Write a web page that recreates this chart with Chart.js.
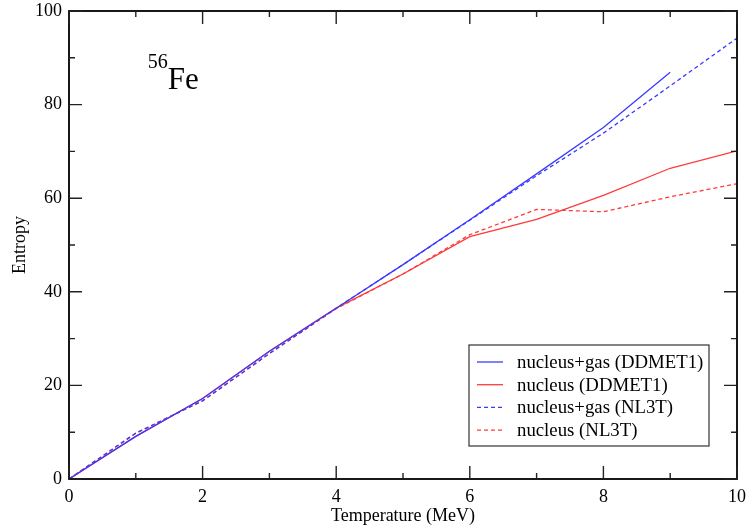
<!DOCTYPE html>
<html>
<head>
<meta charset="utf-8">
<script src="https://cdn.jsdelivr.net/npm/chart.js@4.4.1/dist/chart.umd.min.js"></script>
<style>
  html, body { margin: 0; padding: 0; background: #fff; }
  #wrap { width: 748px; height: 529px; position: relative; }
</style>
</head>
<body>
<div id="wrap"><canvas id="entropia"></canvas></div>
<script>
// temperatura (MeV) y entropía para cada cálculo
const temperaturas = [0, 1, 2, 3, 4, 5, 6, 7, 8, 9, 10];
const ddmetGas  = [0, 9.1, 17.2, 27.3, 36.5, 45.8, 55.4, 65.2, 75.1, 86.9];
const ddmetNuc  = [0, 9.1, 17.2, 27.3, 36.5, 43.8, 51.8, 55.5, 60.6, 66.4, 70.1];
const nl3tGas   = [0, 9.8, 16.7, 26.8, 36.5, 45.8, 55.3, 64.8, 73.9, 84.0, 94.2];
const nl3tNuc   = [0, 9.8, 16.7, 26.8, 36.4, 43.8, 52.2, 57.6, 57.1, 60.3, 63.1];

const nombres = ['nucleus+gas (DDMET1)', 'nucleus (DDMET1)', 'nucleus+gas (NL3T)', 'nucleus (NL3T)'];
const xTicks = [0, 2, 4, 6, 8, 10];
const yTicks = [0, 20, 40, 60, 80, 100];

const AZUL = '#3a3aff';
const ROJO = '#ff3a3a';
const FUENTE = '"Liberation Serif", "DejaVu Serif", serif';

function puntos(vals){
  return vals.map((v, i) => ({x: temperaturas[i], y: v}));
}

function serie(label, vals, color, guiones){
  return {
    label: label,
    data: puntos(vals),
    borderColor: color,
    backgroundColor: color,
    borderWidth: 1.3,
    borderDash: guiones,
    pointRadius: 0,
    tension: 0,
    fill: false
  };
}

const datos = {
  datasets: [
    serie(nombres[0], ddmetGas, AZUL, []),
    serie(nombres[1], ddmetNuc, ROJO, []),
    serie(nombres[2], nl3tGas, AZUL, [4, 3]),
    serie(nombres[3], nl3tNuc, ROJO, [4, 3])
  ]
};

// marco, marcas hacia dentro, leyenda y etiqueta del núcleo
const marco = {
  id: 'marco',
  afterDraw(chart){
    const ctx = chart.ctx;
    const a = chart.chartArea;
    const sx = chart.scales.x, sy = chart.scales.y;
    ctx.save();
    ctx.strokeStyle = '#000';
    ctx.lineWidth = 1.8;
    ctx.strokeRect(a.left, a.top, a.right - a.left, a.bottom - a.top);

    ctx.lineWidth = 1.4;
    ctx.strokeStyle = '#222';
    for (let t = 0; t <= 10; t++) {
      const px = sx.getPixelForValue(t);
      const largo = (t % 2 === 0) ? 13 : 6;
      ctx.beginPath();
      ctx.moveTo(px, a.bottom); ctx.lineTo(px, a.bottom - largo);
      ctx.moveTo(px, a.top); ctx.lineTo(px, a.top + largo);
      ctx.stroke();
    }
    for (let s = 0; s <= 100; s += 10) {
      const py = sy.getPixelForValue(s);
      const largo = (s % 20 === 0) ? 13 : 6;
      ctx.beginPath();
      ctx.moveTo(a.left, py); ctx.lineTo(a.left + largo, py);
      ctx.moveTo(a.right, py); ctx.lineTo(a.right - largo, py);
      ctx.stroke();
    }

    // leyenda
    const lx = 469, ly = 345, lw = 240, lh = 101;
    ctx.fillStyle = '#fff';
    ctx.fillRect(lx, ly, lw, lh);
    ctx.strokeStyle = '#333';
    ctx.lineWidth = 1.2;
    ctx.strokeRect(lx, ly, lw, lh);
    ctx.font = '18.8px ' + FUENTE;
    ctx.textBaseline = 'middle';
    chart.data.datasets.forEach((ds, i) => {
      const yy = ly + 17 + i * 22.7;
      ctx.strokeStyle = ds.borderColor;
      ctx.lineWidth = 1.3;
      ctx.setLineDash(ds.borderDash);
      ctx.beginPath();
      ctx.moveTo(lx + 8, yy); ctx.lineTo(lx + 34, yy);
      ctx.stroke();
      ctx.setLineDash([]);
      ctx.fillStyle = '#000';
      ctx.fillText(ds.label, lx + 48, yy + 1);
    });

    // 56Fe
    const fx = sx.getPixelForValue(1.48), fy = sy.getPixelForValue(83.4);
    ctx.fillStyle = '#000';
    ctx.textBaseline = 'alphabetic';
    ctx.font = '31px ' + FUENTE;
    ctx.fillText('Fe', fx, fy);
    ctx.font = '20px ' + FUENTE;
    ctx.textAlign = 'right';
    ctx.fillText('56', fx, fy - 21);
    ctx.restore();
  }
};

// sin relleno extra por las etiquetas extremas: el área la fija layout.padding
function sinRelleno(s){
  s.paddingTop = 0; s.paddingBottom = 0;
  s.paddingLeft = 0; s.paddingRight = 0;
}

new Chart(document.getElementById('entropia'), {
  type: 'line',
  data: datos,
  options: {
    responsive: true,
    maintainAspectRatio: false,
    animation: false,
    layout: { padding: { top: 11, right: 11, left: 0, bottom: 0 } },
    plugins: {
      legend: { display: false },
      tooltip: { enabled: false }
    },
    scales: {
      x: {
        type: 'linear',
        min: 0, max: 10,
        afterBuildTicks(s){ s.ticks = xTicks.map(v => ({value: v})); },
        afterFit(s){ s.height = 50; sinRelleno(s); },
        grid: { display: false, drawTicks: false, tickLength: 0 },
        border: { display: false },
        ticks: { color: '#000', padding: 7, maxRotation: 0, font: { family: FUENTE, size: 18 } },
        title: { display: true, text: 'Temperature (MeV)', color: '#000', padding: { top: 0, bottom: 2 }, font: { family: FUENTE, size: 18 } }
      },
      y: {
        min: 0, max: 100,
        afterBuildTicks(s){ s.ticks = yTicks.map(v => ({value: v})); },
        afterFit(s){ s.width = 69; sinRelleno(s); },
        grid: { display: false, drawTicks: false, tickLength: 0 },
        border: { display: false },
        ticks: { color: '#000', padding: 7, font: { family: FUENTE, size: 18 } },
        title: { display: true, text: 'Entropy', color: '#000', padding: { top: 9, bottom: 2 }, font: { family: FUENTE, size: 18 } }
      }
    }
  },
  plugins: [marco]
});
</script>
</body>
</html>
